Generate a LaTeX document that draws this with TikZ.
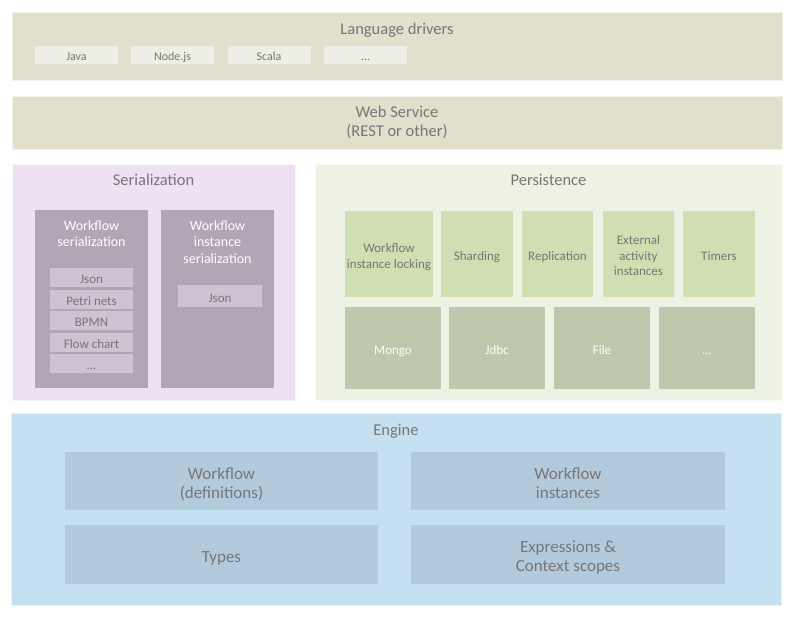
\documentclass[tikz,border=0pt]{standalone}
\usepackage{fontspec}
\setmainfont{Carlito}
\usetikzlibrary{positioning}

\definecolor{txtgray}{HTML}{767676}
\definecolor{beigebg}{HTML}{E2DFCC}
\definecolor{beigeitem}{HTML}{EFEEE6}
\definecolor{lilacbg}{HTML}{EEE1F4}
\definecolor{lilacbox}{HTML}{B1A5B6}
\definecolor{lilacitem}{HTML}{CEC2D3}
\definecolor{greenbg}{HTML}{EEF2E4}
\definecolor{greenmid}{HTML}{CFDFB1}
\definecolor{greendark}{HTML}{BEC8AC}
\definecolor{bluebg}{HTML}{C4E0F1}
\definecolor{bluebox}{HTML}{B3CADC}

\begin{document}
\begin{tikzpicture}[x=1pt, y=-1pt,
		panel/.style={draw=white!60!#1, line width=0.6pt, fill=#1},
		title/.style={text=txtgray, font=\fontsize{16.5}{19}\selectfont, align=center, inner sep=0pt, text height=10.7pt, text depth=0pt},
		box/.style={rectangle, fill=#1, inner sep=0pt, text=txtgray, align=center, font=\fontsize{13}{15.7}\selectfont, text height=12.5pt, text depth=0pt},
		drvbox/.style={box=#1, minimum width=83, minimum height=18, font=\fontsize{12}{14}\selectfont, text height=10.7pt},
		darkbox/.style={box=#1, text=white},
		bigbox/.style={box=#1, font=\fontsize{17}{19}\selectfont, text height=15pt},
		twolines/.style={text height=28pt},
		threelines/.style={text height=43.8pt},
		bigtwo/.style={text height=34pt}]
		
		\useasboundingbox (0,0) rectangle (794,618);
		
		% Language drivers
		\draw[panel=beigebg] (12,12) rectangle (782,80);
		\node[title] (drivers) at (397,28.7) {Language drivers};
		\node[drvbox=beigeitem] (java) at (76.5,55) {Java};
		\node[drvbox=beigeitem] (nodejs) at (172.5,55) {Node.js};
		\node[drvbox=beigeitem] (scala) at (269,55) {Scala};
		\node[drvbox=beigeitem] (otherdrv) at (365.5,55) {...};
		
		% Web service
		\draw[panel=beigebg] (12,96) rectangle (782,149);
		\node[title, text height=29.7pt] (websvc) at (397,121.7) {Web Service\\(REST or other)};
		
		% Serialization
		\draw[panel=lilacbg] (12,164) rectangle (295,400);
		\node[title] (serial) at (153.5,180.2) {Serialization};
		\node[darkbox=lilacbox, minimum width=113, minimum height=178] (wfser) at (91.5,299) {};
		\node[text=white, align=center, font=\fontsize{14}{16}\selectfont] (wfsertitle) at (91.5,233.5) {Workflow\\serialization};
		\node[box=lilacitem, minimum width=83, minimum height=19] (json1) at (91.5,277.5) {Json};
		\node[box=lilacitem, minimum width=83, minimum height=19] (petri) at (91.5,299) {Petri nets};
		\node[box=lilacitem, minimum width=83, minimum height=19] (bpmn) at (91.5,320.5) {BPMN};
		\node[box=lilacitem, minimum width=83, minimum height=19] (flow) at (91.5,342) {Flow chart};
		\node[box=lilacitem, minimum width=83, minimum height=19] (otherser) at (91.5,363.5) {...};
		
		\node[darkbox=lilacbox, minimum width=113, minimum height=178] (instser) at (217.5,299) {};
		\node[text=white, align=center, font=\fontsize{14}{16.5}\selectfont] (instsertitle) at (217.5,242) {Workflow\\instance\\serialization};
		\node[box=lilacitem, minimum width=84, minimum height=22] (json2) at (220,296) {Json};
		
		% Persistence
		\draw[panel=greenbg] (315,164) rectangle (782,400);
		\node[title] (persist) at (548.5,180.2) {Persistence};
		\node[box=greenmid, twolines, minimum width=88, minimum height=86] (locking) at (389,254) {Workflow\\instance locking};
		\node[box=greenmid, minimum width=72, minimum height=86] (sharding) at (477,254) {Sharding};
		\node[box=greenmid, minimum width=71, minimum height=86] (replic) at (557.5,254) {Replication};
		\node[box=greenmid, threelines, minimum width=71, minimum height=86] (extact) at (638.5,254) {External\\activity\\instances};
		\node[box=greenmid, minimum width=72, minimum height=86] (timers) at (719,254) {Timers};
		
		\node[darkbox=greendark, minimum width=96, minimum height=82] (mongo) at (393,348) {Mongo};
		\node[darkbox=greendark, minimum width=96, minimum height=82] (jdbc) at (497,348) {Jdbc};
		\node[darkbox=greendark, minimum width=96, minimum height=82] (file) at (602,348) {File};
		\node[darkbox=greendark, minimum width=96, minimum height=82] (otherstore) at (707,348) {...};
		
		% Engine
		\draw[panel=bluebg] (11,413) rectangle (781,605);
		\node[title] (engine) at (396,430.2) {Engine};
		\node[bigbox=bluebox, bigtwo, minimum width=313, minimum height=58] (wfdef) at (221.5,481) {Workflow\\(definitions)};
		\node[bigbox=bluebox, bigtwo, minimum width=314, minimum height=58] (wfinst) at (568,481) {Workflow\\instances};
		\node[bigbox=bluebox, minimum width=313, minimum height=59] (types) at (221.5,554.5) {Types};
		\node[bigbox=bluebox, bigtwo, minimum width=314, minimum height=59] (exprs) at (568,554.5) {Expressions \&\\Context scopes};
		
	\end{tikzpicture}
\end{document}
